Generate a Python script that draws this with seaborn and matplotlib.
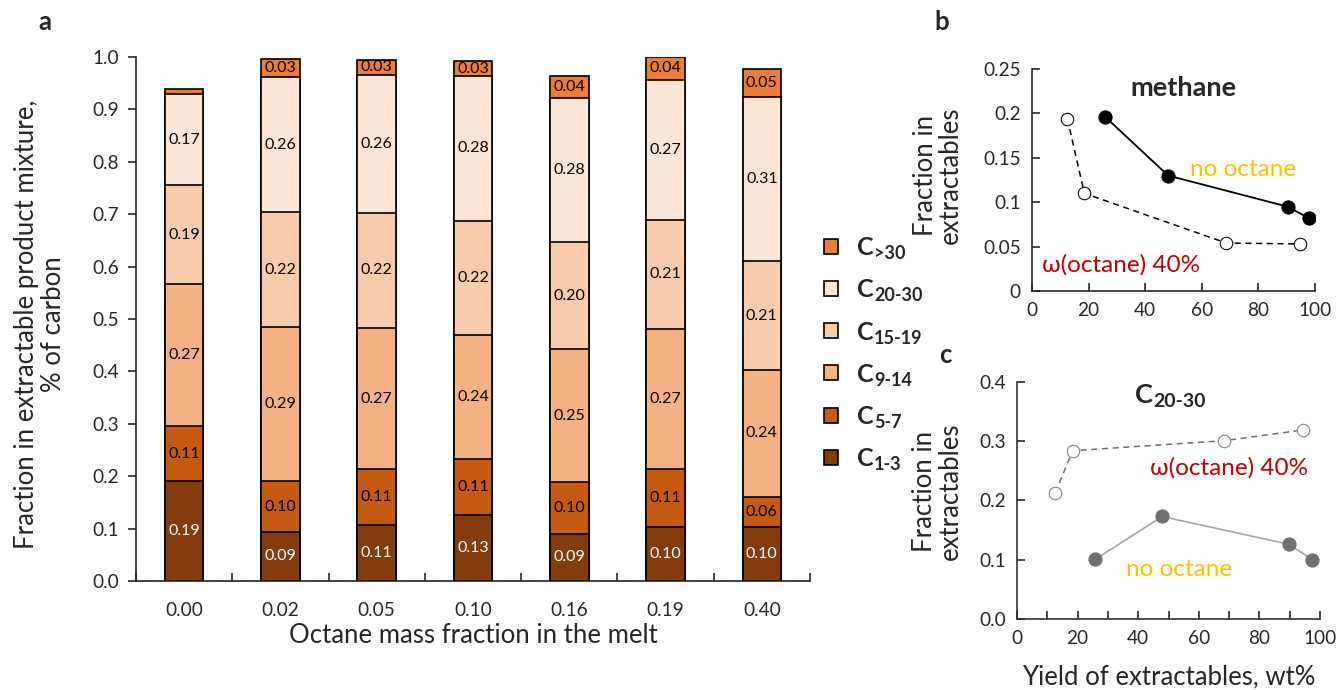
import numpy as np
import pandas as pd
import matplotlib
matplotlib.use("Agg")
import matplotlib.pyplot as plt
import seaborn as sns
from matplotlib.patches import Patch
from matplotlib.ticker import MultipleLocator, FixedLocator, FormatStrFormatter

# ---------------- data ----------------
octane = ["0.00", "0.02", "0.05", "0.10", "0.16", "0.19", "0.40"]
c1_3 = [0.190, 0.094, 0.107, 0.126, 0.090, 0.103, 0.103]
c5_7 = [0.106, 0.096, 0.106, 0.107, 0.098, 0.110, 0.058]
c9_14 = [0.270, 0.294, 0.270, 0.237, 0.254, 0.268, 0.241]
c15_19 = [0.190, 0.220, 0.220, 0.217, 0.204, 0.208, 0.208]
c20_30 = [0.173, 0.258, 0.263, 0.277, 0.276, 0.268, 0.314]
c_gt30 = [0.010, 0.034, 0.028, 0.028, 0.042, 0.043, 0.054]
group_subs = ["1-3", "5-7", "9-14", "15-19", "20-30", ">30"]
colors = ["#843C0C", "#C55A11", "#F4B183", "#F8CBAD", "#FBE5D6", "#ED7D31"]

# panel b: methane
yield_no = [25.9, 48.1, 90.3, 97.9]
meth_no = [0.196, 0.130, 0.095, 0.082]
yield_oct = [12.5, 18.5, 68.7, 94.7]
meth_oct = [0.194, 0.110, 0.054, 0.053]
# panel c: C20-30
yield_no_c = [25.9, 47.9, 89.8, 97.5]
c2030_no = [0.101, 0.173, 0.126, 0.100]
yield_oct_c = [12.6, 18.4, 68.4, 94.4]
c2030_oct = [0.213, 0.284, 0.301, 0.319]

# ---------------- style ----------------
sns.set_theme(style="white")
plt.rcParams["font.family"] = ["Lato", "DejaVu Sans"]
plt.rcParams["axes.linewidth"] = 1.2

W, H = 1337, 690
fig = plt.figure(figsize=(W / 100, H / 100), dpi=100)

LAB = 18.5   # axis label size
TCK = 13.7   # tick label size

# ---------------- panel a ----------------
ax = fig.add_axes([136/W, 1-581/H, (810-136)/W, (581-57)/H])
series = [c1_3, c5_7, c9_14, c15_19, c20_30, c_gt30]
cum = np.cumsum(np.array(series), axis=0)
df = pd.DataFrame({"octane": octane})
for i in range(len(series) - 1, -1, -1):
    df["top"] = cum[i]
    sns.barplot(data=df, x="octane", y="top", order=octane, color=colors[i],
                saturation=1, width=0.4, edgecolor="black", linewidth=1.2, ax=ax)

for i, vals in enumerate(series):
    bottoms = cum[i] - np.array(vals)
    for j, v in enumerate(vals):
        if v < 0.02:
            continue
        ax.text(j, bottoms[j] + v / 2, f"{v:.2f}", ha="center", va="center",
                fontsize=11.5, color="white" if i == 0 else "black")

ax.set_xlim(-0.5, 6.5)
ax.set_ylim(0, 1.0)
ax.yaxis.set_major_locator(MultipleLocator(0.1))
ax.yaxis.set_major_formatter(FormatStrFormatter("%.1f"))
ax.tick_params(axis="y", direction="out", length=6, width=1.2, labelsize=TCK, left=True, pad=6)
ax.xaxis.set_minor_locator(FixedLocator(np.arange(-0.5, 7, 1)))
ax.tick_params(axis="x", which="major", length=0, labelsize=TCK, pad=15)
ax.tick_params(axis="x", which="minor", direction="in", length=6, width=1.2, bottom=True)
for s in ["top", "right"]:
    ax.spines[s].set_visible(False)
for s in ["left", "bottom"]:
    ax.spines[s].set_color("#222222")
ax.set_xlabel("Octane mass fraction in the melt", fontsize=LAB)
ax.xaxis.set_label_coords(0.5, -0.080)
ax.set_ylabel("Fraction in extractable product mixture,\n% of carbon", fontsize=LAB, linespacing=1.1)
ax.yaxis.set_label_coords(-0.104, 0.49)

handles = [Patch(facecolor=colors[i], edgecolor="black", linewidth=1.2) for i in range(5, -1, -1)]
leg = fig.legend(handles, ["C"] * 6, loc="upper left", bbox_to_anchor=(814/W, 1-226/H),
                 frameon=False, prop={"size": 18, "weight": "bold"}, handlelength=0.55,
                 handleheight=0.55, labelspacing=0.77, handletextpad=0.75, borderaxespad=0)

fig.text(45/W, 1-22/H, "a", fontsize=18.5, fontweight="bold", ha="center", va="center")
fig.text(942/W, 1-22/H, "b", fontsize=18.5, fontweight="bold", ha="center", va="center")
fig.text(945/W, 1-355/H, "c", fontsize=18.5, fontweight="bold", ha="center", va="center")

# ---------------- panel b ----------------
axb = fig.add_axes([1032/W, 1-291/H, (1315-1032)/W, (291-69)/H])
sns.lineplot(x=yield_no, y=meth_no, sort=False, color="black", lw=1.3, marker="o",
             markersize=9.5, markerfacecolor="black", markeredgecolor="black", ax=axb)
sns.lineplot(x=yield_oct, y=meth_oct, sort=False, color="black", lw=1.1, marker="o",
             markersize=9, markerfacecolor="white", markeredgecolor="black",
             linestyle=(0, (4, 3)), ax=axb)
axb.set_xlim(0, 100)
axb.set_ylim(0, 0.25)
axb.xaxis.set_major_locator(MultipleLocator(20))
axb.yaxis.set_major_locator(FixedLocator([0, 0.05, 0.1, 0.15, 0.2, 0.25]))
axb.set_yticklabels(["0", "0.05", "0.1", "0.15", "0.2", "0.25"])
axb.tick_params(axis="both", direction="in", length=6, width=1.2, labelsize=TCK,
                left=True, bottom=True, pad=8)
for s in ["top", "right"]:
    axb.spines[s].set_visible(False)
axb.set_ylabel("Fraction in\nextractables", fontsize=LAB, linespacing=1.0)
axb.yaxis.set_label_coords(-0.245, 0.52)
axb.text(53.4, 0.229, "methane", fontsize=19.5, fontweight="bold", ha="center", va="center")
axb.text(74.6, 0.137, "no octane", fontsize=17.5, color="#FFC000", ha="center", va="center")
axb.text(31.4, 0.029, "ω(octane) 40%", fontsize=17.5, color="#C00000", ha="center", va="center")

# ---------------- panel c ----------------
axc = fig.add_axes([1017/W, 1-619/H, (1320-1017)/W, (619-382)/H])
sns.lineplot(x=yield_no_c, y=c2030_no, sort=False, color="#A6A6A6", lw=1.2, marker="o",
             markersize=9.5, markerfacecolor="#707070", markeredgecolor="#707070", ax=axc)
sns.lineplot(x=yield_oct_c, y=c2030_oct, sort=False, color="#707070", lw=1.1, marker="o",
             markersize=9, markerfacecolor="white", markeredgecolor="#808080",
             linestyle=(0, (4, 3)), ax=axc)
axc.set_xlim(0, 100)
axc.set_ylim(0, 0.4)
axc.xaxis.set_major_locator(MultipleLocator(20))
axc.xaxis.set_minor_locator(MultipleLocator(10))
axc.yaxis.set_major_locator(MultipleLocator(0.1))
axc.yaxis.set_major_formatter(FormatStrFormatter("%.1f"))
axc.tick_params(axis="both", which="both", direction="in", length=6, width=1.2,
                labelsize=TCK, left=True, bottom=True, pad=8)
for s in ["top", "right"]:
    axc.spines[s].set_visible(False)
for s in ["left", "bottom"]:
    axc.spines[s].set_color("#333333")
axc.set_ylabel("Fraction in\nextractables", fontsize=LAB, linespacing=1.0)
axc.yaxis.set_label_coords(-0.18, 0.54)
axc.set_xlabel("Yield of extractables, wt%", fontsize=LAB)
axc.xaxis.set_label_coords(0.5, -0.19)
ctitle = axc.text(44.8, 0.378, "C", fontsize=19.5, fontweight="bold", ha="right", va="center")
axc.text(70.0, 0.255, "ω(octane) 40%", fontsize=17.5, color="#C00000", ha="center", va="center")
axc.text(53.5, 0.084, "no octane", fontsize=17.5, color="#FFC000", ha="center", va="center")

# ---------------- subscripts (drawn next to the bold "C") ----------------
fig.canvas.draw()
for t, sub in zip(leg.get_texts(), group_subs[::-1]):
    bb = t.get_window_extent()
    fig.text((bb.x1 + 1) / W, (bb.y0 - 3) / H, sub, fontsize=13, fontweight="bold",
             ha="left", va="bottom")
bb = ctitle.get_window_extent()
fig.text((bb.x1 + 1) / W, (bb.y0 - 3) / H, "20-30", fontsize=14, fontweight="bold",
         ha="left", va="bottom")

fig.savefig("out.png", dpi=100)
